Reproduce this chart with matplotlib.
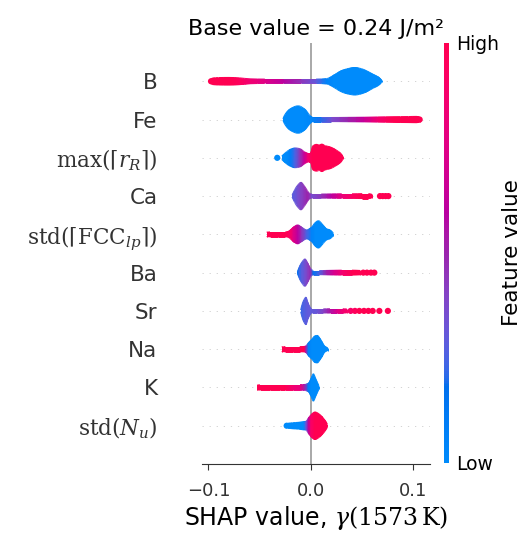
import numpy as np
import matplotlib
matplotlib.use("Agg")
import matplotlib.pyplot as plt
from matplotlib.path import Path
from matplotlib.patches import PathPatch
from matplotlib.colors import LinearSegmentedColormap, Normalize
from matplotlib.cm import ScalarMappable
from matplotlib.collections import LineCollection
from matplotlib.transforms import IdentityTransform

plt.rcParams['mathtext.fontset'] = 'dejavuserif'

# ---------------- data ----------------
features = ['B', 'Fe', r'$\max(\lceil r_R\rceil)$', 'Ca',
            r'$\mathrm{std}(\lceil \mathrm{FCC}_{lp}\rceil)$',
            'Ba', 'Sr', 'Na', 'K', r'$\mathrm{std}(N_u)$']

# per feature: SHAP value knots, relative density, mean feature value (0 low .. 1 high)
b_x = [-0.0985, -0.0960, -0.0900, -0.0800, -0.0700, -0.0595, -0.0450, -0.0270, -0.0100, 0.0050,
       0.0153, 0.0218, 0.0283, 0.0348, 0.0429, 0.0490, 0.0543, 0.0608, 0.0660, 0.0690]
b_d = [0.10, 0.24, 0.27, 0.28, 0.25, 0.18, 0.16, 0.16, 0.16, 0.16,
       0.20, 0.42, 0.72, 0.90, 1.00, 0.92, 0.76, 0.50, 0.30, 0.08]
b_c = [1.00, 1.00, 1.00, 1.00, 0.95, 0.85, 0.75, 0.60, 0.45, 0.30,
       0.05, 0.0, 0.0, 0.0, 0.0, 0.0, 0.0, 0.0, 0.0, 0.0]

fe_x = [-0.0274, -0.0258, -0.0205, -0.0124, -0.0059, -0.0016, 0.0016, 0.0100, 0.0200, 0.0360,
        0.0520, 0.0650, 0.0800, 0.0950, 0.1030, 0.1060]
fe_d = [0.05, 0.32, 0.77, 1.00, 0.75, 0.36, 0.15, 0.15, 0.15, 0.16,
        0.17, 0.19, 0.21, 0.22, 0.23, 0.18]
fe_c = [0.0, 0.0, 0.0, 0.0, 0.0, 0.02, 0.05, 0.20, 0.35, 0.50,
        0.65, 0.85, 1.0, 1.0, 1.0, 1.0]

mx_x = [-0.0286, -0.0260, -0.0237, -0.0200, -0.0156, -0.0107, -0.0065, -0.0030, -0.0005, 0.0015,
        0.0055, 0.0080, 0.0104, 0.0140, 0.0185, 0.0234, 0.0270, 0.0295, 0.0310]
mx_d = [0.12, 0.30, 0.45, 0.62, 0.72, 0.66, 0.45, 0.32, 0.32, 0.85,
        0.98, 0.92, 1.00, 0.88, 0.80, 0.62, 0.45, 0.30, 0.12]
mx_c = [0.0, 0.0, 0.0, 0.08, 0.25, 0.45, 0.65, 0.85, 0.95, 1.0,
        1.0, 1.0, 1.0, 1.0, 1.0, 1.0, 1.0, 1.0, 1.0]

ca_x = [-0.0185, -0.0160, -0.0130, -0.0098, -0.0065, -0.0035, -0.0010, 0.0010, 0.0100, 0.0200,
        0.0300, 0.0400, 0.0500, 0.0560, 0.0592]
ca_d = [0.06, 0.45, 0.80, 1.00, 0.75, 0.40, 0.18, 0.15, 0.15, 0.16,
        0.17, 0.17, 0.18, 0.18, 0.14]
ca_c = [0.28, 0.30, 0.35, 0.40, 0.45, 0.50, 0.45, 0.35, 0.45, 0.60,
        0.80, 0.92, 1.0, 1.0, 1.0]

fcc_x = [-0.0433, -0.0400, -0.0320, -0.0250, -0.0221, -0.0205, -0.0172, -0.0130, -0.0091, -0.0042,
         0.0007, 0.0040, 0.0072, 0.0120, 0.0153, 0.0185, 0.0218]
fcc_d = [0.16, 0.18, 0.18, 0.18, 0.22, 0.30, 0.52, 0.69, 0.52, 0.33,
         0.54, 0.85, 1.00, 0.66, 0.40, 0.33, 0.10]
fcc_c = [1.0, 1.0, 1.0, 1.0, 0.95, 0.90, 0.75, 0.60, 0.45, 0.25,
         0.05, 0.0, 0.0, 0.0, 0.0, 0.0, 0.0]

ba_x = [-0.0133, -0.0115, -0.0090, -0.0059, -0.0030, -0.0005, 0.0023, 0.0080, 0.0150, 0.0220,
        0.0300, 0.0400, 0.0478]
ba_d = [0.06, 0.40, 0.75, 1.00, 0.68, 0.32, 0.15, 0.15, 0.16, 0.17, 0.18, 0.18, 0.16]
ba_c = [0.18, 0.22, 0.28, 0.34, 0.42, 0.48, 0.15, 0.25, 0.50, 0.70, 0.85, 1.0, 1.0]

sr_x = [-0.0101, -0.0088, -0.0070, -0.0049, -0.0030, -0.0010, 0.0007, 0.0060, 0.0120, 0.0185,
        0.0250, 0.0310, 0.0350]
sr_d = [0.06, 0.45, 0.80, 1.00, 0.62, 0.30, 0.15, 0.15, 0.15, 0.16, 0.16, 0.16, 0.14]
sr_c = [0.22, 0.24, 0.26, 0.28, 0.30, 0.30, 0.30, 0.32, 0.40, 0.55, 0.72, 0.85, 0.90]

na_x = [-0.0286, -0.0250, -0.0180, -0.0110, -0.0065, -0.0049, -0.0026, 0.0007, 0.0039, 0.0062,
        0.0088, 0.0114, 0.0137, 0.0163]
na_d = [0.17, 0.19, 0.19, 0.19, 0.20, 0.25, 0.46, 0.72, 0.97, 1.00, 0.78, 0.46, 0.20, 0.10]
na_c = [1.0, 1.0, 1.0, 1.0, 1.0, 0.5, 0.05, 0.0, 0.0, 0.0, 0.0, 0.0, 0.0, 0.0]

k_x = [-0.0524, -0.0500, -0.0400, -0.0300, -0.0254, -0.0180, -0.0107, -0.0060, -0.0026, 0.0000,
       0.0023, 0.0049, 0.0078]
k_d = [0.17, 0.21, 0.21, 0.21, 0.21, 0.21, 0.21, 0.22, 0.30, 0.65, 1.00, 0.60, 0.12]
k_c = [1.0, 1.0, 1.0, 1.0, 1.0, 0.85, 0.80, 0.50, 0.10, 0.0, 0.0, 0.0, 0.0]

nu_x = [-0.0225, -0.0180, -0.0120, -0.0075, -0.0049, -0.0026, 0.0000, 0.0039, 0.0081, 0.0114,
        0.0137, 0.0160]
nu_d = [0.18, 0.22, 0.25, 0.30, 0.32, 0.55, 0.80, 1.00, 0.85, 0.60, 0.40, 0.12]
nu_c = [0.0, 0.0, 0.0, 0.0, 0.3, 0.6, 0.9, 1.0, 1.0, 1.0, 1.0, 1.0]

# isolated sample points (feature index, SHAP value, feature value)
dot_feat = [0, 1, 2, 3, 3, 3, 3, 5, 5, 5, 5, 6, 6, 6, 6, 6, 6, 6, 6, 9]
dot_x = [-0.0975, 0.1060, -0.0329, 0.0673, 0.0700, 0.0728, 0.0755, 0.0510, 0.0546, 0.0585,
         0.0618, 0.0387, 0.0429, 0.0472, 0.0517, 0.0560, 0.0602, 0.0667, 0.0750, -0.0237]
dot_c = [1.0, 1.0, 0.0, 1.0, 1.0, 1.0, 1.0, 1.0, 1.0, 1.0,
         1.0, 0.9, 0.95, 1.0, 1.0, 1.0, 1.0, 1.0, 1.0, 0.0]

xticks = [-0.1, 0.0, 0.1]
base_value_text = 'Base value = 0.24 J/m²'
xlabel_text = r'SHAP value, $\gamma(1573\,\mathrm{K})$'

knots = [(b_x, b_d, b_c), (fe_x, fe_d, fe_c), (mx_x, mx_d, mx_c), (ca_x, ca_d, ca_c),
         (fcc_x, fcc_d, fcc_c), (ba_x, ba_d, ba_c), (sr_x, sr_d, sr_c), (na_x, na_d, na_c),
         (k_x, k_d, k_c), (nu_x, nu_d, nu_c)]

# ---------------- SHAP red_blue colormap (LCH interpolation) ----------------
def lch2rgb(l, c, h):
    a = c * np.cos(h)
    b = c * np.sin(h)
    fy = (l + 16.0) / 116.0
    fx = fy + a / 500.0
    fz = fy - b / 200.0

    def finv(t):
        return t ** 3 if t > 6 / 29 else 3 * (6 / 29) ** 2 * (t - 4 / 29)

    X, Y, Z = 0.95047 * finv(fx), 1.0 * finv(fy), 1.08883 * finv(fz)
    M = np.array([[3.24048134, -1.53715152, -0.49853633],
                  [-0.96925495, 1.87599, 0.04155593],
                  [0.05564664, -0.20404134, 1.05731107]])
    rgb = M @ np.array([X, Y, Z])
    rgb = np.clip(rgb, 0, None)
    rgb = np.where(rgb > 0.0031308, 1.055 * rgb ** (1 / 2.4) - 0.055, 12.92 * rgb)
    return np.clip(rgb, 0, 1)

blue_lch = [54., 70., 4.6588]
red_lch = [54., 90., 0.35470565 + 2 * np.pi]
l_mid = 40.
nsteps = 100
l_vals = list(np.linspace(blue_lch[0], l_mid, nsteps // 2)) + list(np.linspace(l_mid, red_lch[0], nsteps // 2))
c_vals = np.linspace(blue_lch[1], red_lch[1], nsteps)
h_vals = np.linspace(blue_lch[2], red_lch[2], nsteps)
cm_colors = [lch2rgb(l, c, h) for l, c, h in zip(l_vals, c_vals, h_vals)]
red_blue = LinearSegmentedColormap.from_list('red_blue', cm_colors)

# ---------------- helpers ----------------
def slopes(x, y):
    h = np.diff(x)
    d = np.diff(y) / h
    m = np.zeros_like(y)
    m[0], m[-1] = d[0], d[-1]
    for k in range(1, len(y) - 1):
        if d[k - 1] * d[k] <= 0:
            m[k] = 0.0
        else:
            w1 = 2 * h[k] + h[k - 1]
            w2 = h[k] + 2 * h[k - 1]
            m[k] = (w1 + w2) / (w1 / d[k - 1] + w2 / d[k])
    return m

def outline(xs, half, row):
    up = row + half
    lo = row - half
    mu = slopes(xs, up)
    ml = slopes(xs, lo)
    verts = [(xs[0], lo[0]), (xs[0], up[0])]
    codes = [Path.MOVETO, Path.LINETO]
    for k in range(len(xs) - 1):
        h = xs[k + 1] - xs[k]
        verts += [(xs[k] + h / 3, up[k] + mu[k] * h / 3),
                  (xs[k + 1] - h / 3, up[k + 1] - mu[k + 1] * h / 3),
                  (xs[k + 1], up[k + 1])]
        codes += [Path.CURVE4] * 3
    verts.append((xs[-1], lo[-1]))
    codes.append(Path.LINETO)
    for k in range(len(xs) - 1, 0, -1):
        h = xs[k] - xs[k - 1]
        verts += [(xs[k] - h / 3, lo[k] - ml[k] * h / 3),
                  (xs[k - 1] + h / 3, lo[k - 1] + ml[k - 1] * h / 3),
                  (xs[k - 1], lo[k - 1])]
        codes += [Path.CURVE4] * 3
    verts.append((xs[0], lo[0]))
    codes.append(Path.CLOSEPOLY)
    return Path(verts, codes)

# ---------------- figure ----------------
W, Hpx = 522, 534
fig = plt.figure(figsize=(W / 100, Hpx / 100), dpi=100)
ax = fig.add_axes([202 / W, (Hpx - 464) / Hpx, 228 / W, 421 / Hpx])

n = len(features)
HALF = 0.36
axis_color = '#333333'

ax.set_xlim(-0.1063, 0.1161)
ax.set_ylim(-1, n)

ax.axvline(0, color='#999999', lw=1.2, zorder=-1)
for i in range(n):
    row = n - 1 - i
    ax.axhline(row, color='#cccccc', lw=0.6, dashes=(1.5, 7), zorder=-1)

for i, (xs, ds, cs) in enumerate(knots):
    row = n - 1 - i
    xs = np.asarray(xs, float)
    cs = np.asarray(cs, float)
    half = np.asarray(ds, float) * HALF
    path = outline(xs, half, row)
    patch = PathPatch(path, transform=ax.transData, facecolor='none', edgecolor='none')
    ax.add_patch(patch)
    X = np.vstack([xs, xs])
    Y = np.vstack([np.full(len(xs), row - 0.45), np.full(len(xs), row + 0.45)])
    C = np.vstack([cs, cs])
    mesh = ax.pcolormesh(X, Y, C, shading='gouraud', cmap=red_blue, vmin=0, vmax=1, zorder=2)
    mesh.set_clip_path(patch)
    # antialiased rim along the violin outline (display coordinates)
    disp = ax.transData.transform_path(path)
    for poly in disp.to_polygons(closed_only=False):
        segs = np.stack([poly[:-1], poly[1:]], axis=1)
        mids = segs.mean(axis=1)
        xm = ax.transData.inverted().transform(mids)[:, 0]
        seg_cols = red_blue(np.interp(xm, xs, cs))
        lc = LineCollection(segs, colors=seg_cols, linewidths=0.7,
                            transform=IdentityTransform(), zorder=2.5)
        ax.add_collection(lc, autolim=False)

dot_rows = [n - 1 - f for f in dot_feat]
ax.scatter(dot_x, dot_rows, c=dot_c, cmap=red_blue, vmin=0, vmax=1, s=20, linewidths=0, zorder=3)

ax.set_xticks(xticks)
ax.set_xticklabels([f'{t:.1f}'.replace('-', '\u2212') for t in xticks])
ax.set_yticks(range(n))
ax.set_yticklabels(features[::-1], fontsize=15.5)
for s in ['left', 'right', 'top']:
    ax.spines[s].set_visible(False)
ax.spines['bottom'].set_color(axis_color)
ax.tick_params(axis='y', length=0, pad=32, labelcolor=axis_color)
ax.tick_params(axis='x', labelsize=13, color=axis_color, labelcolor=axis_color,
               length=4.5, pad=8.5)
ax.set_xlabel(xlabel_text, fontsize=17, labelpad=3)
ax.set_title(base_value_text, fontsize=16)

cax = fig.add_axes([444 / W, (Hpx - 463) / Hpx, 5 / W, 420 / Hpx])
cb = fig.colorbar(ScalarMappable(norm=Normalize(0, 1), cmap=red_blue), cax=cax, ticks=[0, 1])
cb.set_ticklabels(['Low', 'High'])
cb.ax.tick_params(labelsize=13.5, length=0, pad=5)
cb.outline.set_visible(False)
cb.set_label('Feature value', size=15.5, labelpad=2)

fig.savefig('out.png', dpi=100)
